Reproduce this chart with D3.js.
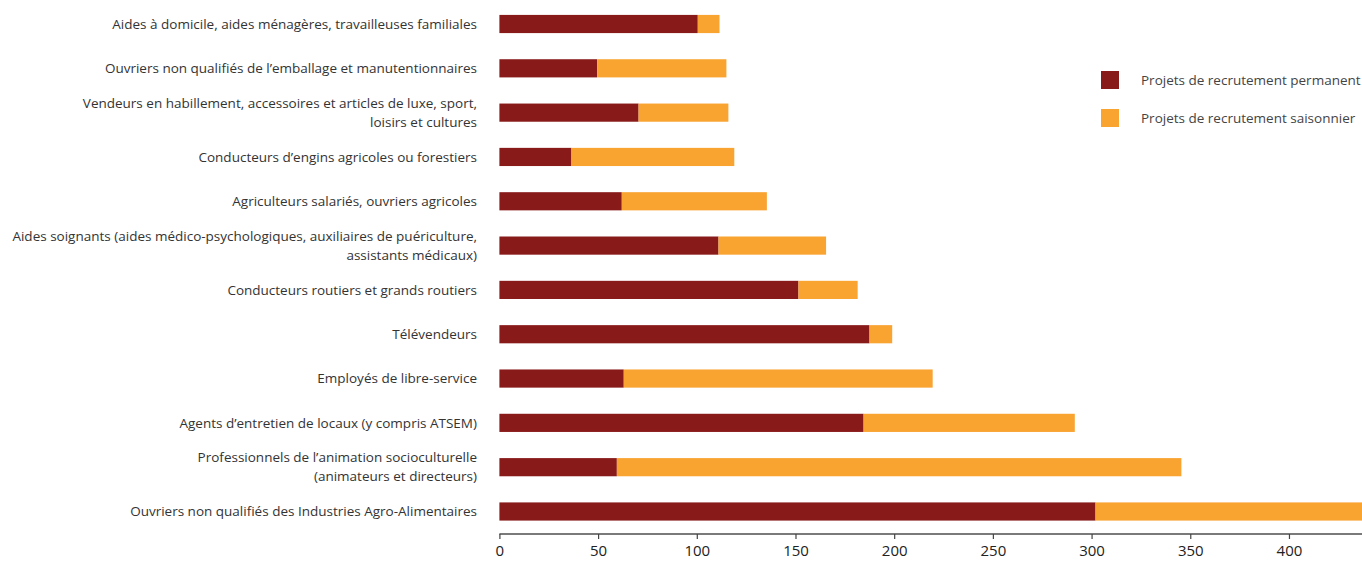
<!DOCTYPE html>
<html><head><meta charset="utf-8">
<script src="https://cdn.jsdelivr.net/npm/d3@7/dist/d3.min.js"></script>
<style>
html,body{margin:0;padding:0;background:#fff;}
svg{display:block;}
text{font-family:"Open Sans","Noto Sans",sans-serif;}
</style></head><body>
<svg id="chart" width="1362" height="561"></svg>
<script>
const categories = [
  ["Aides à domicile, aides ménagères, travailleuses familiales"],
  ["Ouvriers non qualifiés de l’emballage et manutentionnaires"],
  ["Vendeurs en habillement, accessoires et articles de luxe, sport,", "loisirs et cultures"],
  ["Conducteurs d’engins agricoles ou forestiers"],
  ["Agriculteurs salariés, ouvriers agricoles"],
  ["Aides soignants (aides médico-psychologiques, auxiliaires de puériculture,", "assistants médicaux)"],
  ["Conducteurs routiers et grands routiers"],
  ["Télévendeurs"],
  ["Employés de libre-service"],
  ["Agents d’entretien de locaux (y compris ATSEM)"],
  ["Professionnels de l’animation socioculturelle", "(animateurs et directeurs)"],
  ["Ouvriers non qualifiés des Industries Agro-Alimentaires"]
];
const permanent = [100.5, 49.5, 70.5, 36.5, 62, 111, 151.5, 187.5, 63, 184.5, 59.5, 302];
const seasonal  = [11,   65.5, 45.5, 82.5, 73.5, 54.5, 30,   11.5, 156.5, 107, 286, 140];
const seriesNames = ["Projets de recrutement permanent", "Projets de recrutement saisonnier"];
const colors = ["#891a1a", "#f9a331"];
const xTicks = [0, 50, 100, 150, 200, 250, 300, 350, 400];

const svg = d3.select("#chart");
const W = 1362, H = 561;
const x = d3.scaleLinear().domain([0, 437]).range([499.4, 1362]);
const y = d3.scaleBand().domain(d3.range(categories.length)).range([1.84, 533.66]).paddingInner(0.59).paddingOuter(0.295);

svg.append("defs").append("clipPath").attr("id","clip")
  .append("rect").attr("x", 0).attr("y", 0).attr("width", W).attr("height", H);

const rows = categories.map((c, i) => ({i, label: c, p: permanent[i], s: seasonal[i]}));

const g = svg.append("g").attr("clip-path","url(#clip)");
g.selectAll("rect.perm").data(rows).join("rect").attr("class","perm")
  .attr("x", x(0)).attr("y", d => y(d.i)).attr("height", y.bandwidth())
  .attr("width", d => x(d.p) - x(0)).attr("fill", colors[0]);
g.selectAll("rect.seas").data(rows).join("rect").attr("class","seas")
  .attr("x", d => x(d.p)).attr("y", d => y(d.i)).attr("height", y.bandwidth())
  .attr("width", d => x(d.p + d.s) - x(d.p)).attr("fill", colors[1]);

// category labels
const lab = svg.append("g").attr("font-size", 13.5).attr("fill", "#333").attr("text-anchor","end");
rows.forEach(d => {
  const cy = y(d.i) + y.bandwidth()/2;
  const n = d.label.length;
  d.label.forEach((line, k) => {
    lab.append("text").attr("x", 477).attr("y", cy + (k - (n-1)/2) * 19)
      .attr("dy", "0.35em").text(line);
  });
});

// x axis
const axis = d3.axisBottom(x).tickValues(xTicks).tickSize(5).tickSizeOuter(0).tickFormat(d3.format("d"));
const ax = svg.append("g").attr("transform", "translate(0,534)").call(axis);
ax.select(".domain").attr("stroke", "#7a7a7a").attr("stroke-width", 2).attr("d", `M${x(0)},0H${W}`);
ax.selectAll(".tick line").attr("stroke", "#444").attr("stroke-width", 1.2);
ax.selectAll(".tick text").attr("font-size", 15).attr("fill", "#222").attr("y", 22).attr("dy", 0)
  .attr("font-family", '"Open Sans","Noto Sans",sans-serif');

// legend
const leg = svg.append("g");
seriesNames.forEach((name, k) => {
  const ly = 80 + k * 38;
  leg.append("rect").attr("x", 1101).attr("y", ly - 9).attr("width", 18).attr("height", 18).attr("fill", colors[k]);
  leg.append("text").attr("x", 1141).attr("y", ly).attr("dy", "0.35em").attr("font-size", 13.5).attr("fill", "#444").text(name);
});
</script>
</body></html>
